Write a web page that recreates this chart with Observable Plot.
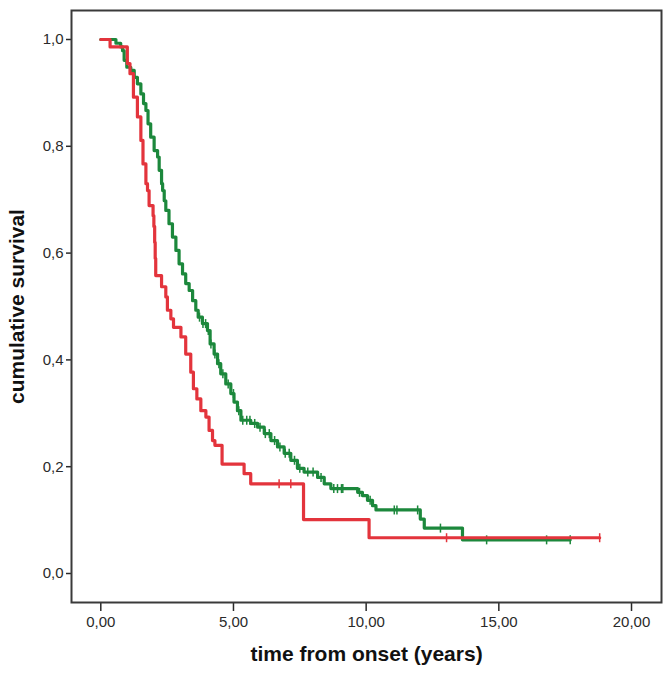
<!DOCTYPE html>
<html><head><meta charset="utf-8">
<script src="https://cdn.jsdelivr.net/npm/d3@7"></script>
<script src="https://cdn.jsdelivr.net/npm/@observablehq/plot@0.6"></script>
<style>body{margin:0;background:#fff} #chart svg{display:block}</style>
</head><body><div id="chart"></div>
<script>
const xTicks = [0, 5, 10, 15, 20];
const yTicks = [0, 0.2, 0.4, 0.6, 0.8, 1.0];
const xTitle = "time from onset (years)";
const yTitle = "cumulative survival";

const greenTime = [0, 0.57, 0.75, 0.82, 0.88, 0.98, 1.13, 1.26, 1.38, 1.51, 1.61, 1.70, 1.78, 1.88, 2.01, 2.14, 2.20, 2.29, 2.33, 2.39, 2.45, 2.57, 2.70, 2.83, 2.95, 3.08, 3.20, 3.33, 3.46, 3.58, 3.67, 3.83, 4.02, 4.12, 4.27, 4.40, 4.52, 4.71, 4.90, 5.02, 5.15, 5.28, 5.65, 5.91, 6.16, 6.41, 6.66, 6.91, 7.16, 7.41, 7.66, 8.17, 8.42, 8.67, 9.68, 9.86, 10.05, 10.24, 10.37, 12.04, 12.19, 13.63, 17.69];
const greenSurv = [1.0, 0.993, 0.986, 0.979, 0.961, 0.948, 0.942, 0.929, 0.917, 0.898, 0.880, 0.867, 0.842, 0.817, 0.792, 0.780, 0.755, 0.730, 0.717, 0.698, 0.680, 0.655, 0.630, 0.605, 0.580, 0.561, 0.543, 0.530, 0.511, 0.493, 0.480, 0.468, 0.455, 0.430, 0.411, 0.393, 0.374, 0.355, 0.337, 0.321, 0.305, 0.287, 0.281, 0.274, 0.262, 0.249, 0.237, 0.225, 0.212, 0.197, 0.190, 0.180, 0.168, 0.159, 0.152, 0.146, 0.137, 0.127, 0.119, 0.102, 0.085, 0.063, 0.063];

const redTime = [0, 0.35, 1.0, 1.10, 1.23, 1.38, 1.51, 1.59, 1.70, 1.76, 1.82, 1.97, 2.00, 2.03, 2.05, 2.07, 2.29, 2.45, 2.51, 2.64, 2.74, 3.02, 3.20, 3.39, 3.49, 3.62, 3.77, 3.96, 4.08, 4.21, 4.30, 4.57, 5.40, 5.65, 7.64, 10.11, 18.8];
const redSurv = [1.0, 0.986, 0.955, 0.936, 0.892, 0.855, 0.811, 0.767, 0.730, 0.717, 0.689, 0.670, 0.650, 0.620, 0.590, 0.558, 0.537, 0.518, 0.493, 0.477, 0.461, 0.443, 0.411, 0.377, 0.346, 0.327, 0.305, 0.293, 0.268, 0.249, 0.240, 0.205, 0.187, 0.168, 0.101, 0.067, 0.067];

const greenCensor = [3.72, 3.85, 3.95, 4.05, 4.15, 4.30, 4.45, 4.60, 4.80, 5.00, 5.20, 5.35, 5.50, 5.62, 5.80, 6.00, 6.20, 6.35, 6.55, 6.75, 6.95, 7.10, 7.30, 7.50, 7.80, 8.00, 8.30, 8.78, 8.92, 9.07, 9.12, 9.75, 10.15, 11.06, 11.16, 11.94, 12.80, 14.54, 16.80, 17.69];
const redCensor = [6.72, 7.16, 13.03, 18.8];

const GREEN = "#1c883c", RED = "#e3343c";

function series(t, s) { return t.map((v, i) => ({time: v, surv: s[i]})); }
function survAt(t, s, x) { let v = s[0]; for (let i = 0; i < t.length; i++) if (t[i] <= x) v = s[i]; return v; }
function censorPts(c, t, s) { return c.map(x => ({time: x, surv: survAt(t, s, x)})); }
const vtick = {draw(ctx, size) { const r = Math.sqrt(size / Math.PI); ctx.moveTo(0, -r); ctx.lineTo(0, r); }};

const chart = Plot.plot({
  width: 669, height: 677,
  marginLeft: 71, marginRight: 8, marginTop: 10, marginBottom: 75,
  style: {fontFamily: "'Liberation Sans', Arial, sans-serif", fontSize: "15px", color: "#2a2a2a", background: "#fff"},
  x: {domain: [-1.104, 21.13]},
  y: {domain: [-0.0543, 1.0543]},
  marks: [
    Plot.axisX({ticks: xTicks, tickFormat: d => d.toFixed(2).replace(".", ","), tickSize: 9, tickPadding: 5, strokeWidth: 1.5, label: null}),
    Plot.axisY({ticks: yTicks, tickFormat: d => d.toFixed(1).replace(".", ","), tickSize: 5, tickPadding: 3, strokeWidth: 1.5, label: null}),
    Plot.line(series(greenTime, greenSurv), {x: "time", y: "surv", curve: "step-after", stroke: GREEN, strokeWidth: 3.2}),
    Plot.dot(censorPts(greenCensor, greenTime, greenSurv), {x: "time", y: "surv", symbol: vtick, r: 4.5, stroke: GREEN, strokeWidth: 1.5, fill: "none"}),
    Plot.line(series(redTime, redSurv), {x: "time", y: "surv", curve: "step-after", stroke: RED, strokeWidth: 3.2}),
    Plot.dot(censorPts(redCensor, redTime, redSurv), {x: "time", y: "surv", symbol: vtick, r: 4.5, stroke: RED, strokeWidth: 1.5, fill: "none"}),
    Plot.frame({stroke: "#3a3a3a", strokeWidth: 2}),
    Plot.text([xTitle], {frameAnchor: "bottom", dy: 58, textAnchor: "middle", fontSize: 21, fontWeight: "bold", fill: "#111"}),
    Plot.text([yTitle], {frameAnchor: "left", dx: -54, rotate: -90, textAnchor: "middle", fontSize: 21, fontWeight: "bold", fill: "#111"})
  ]
});
document.getElementById("chart").append(chart);
</script>
</body></html>
